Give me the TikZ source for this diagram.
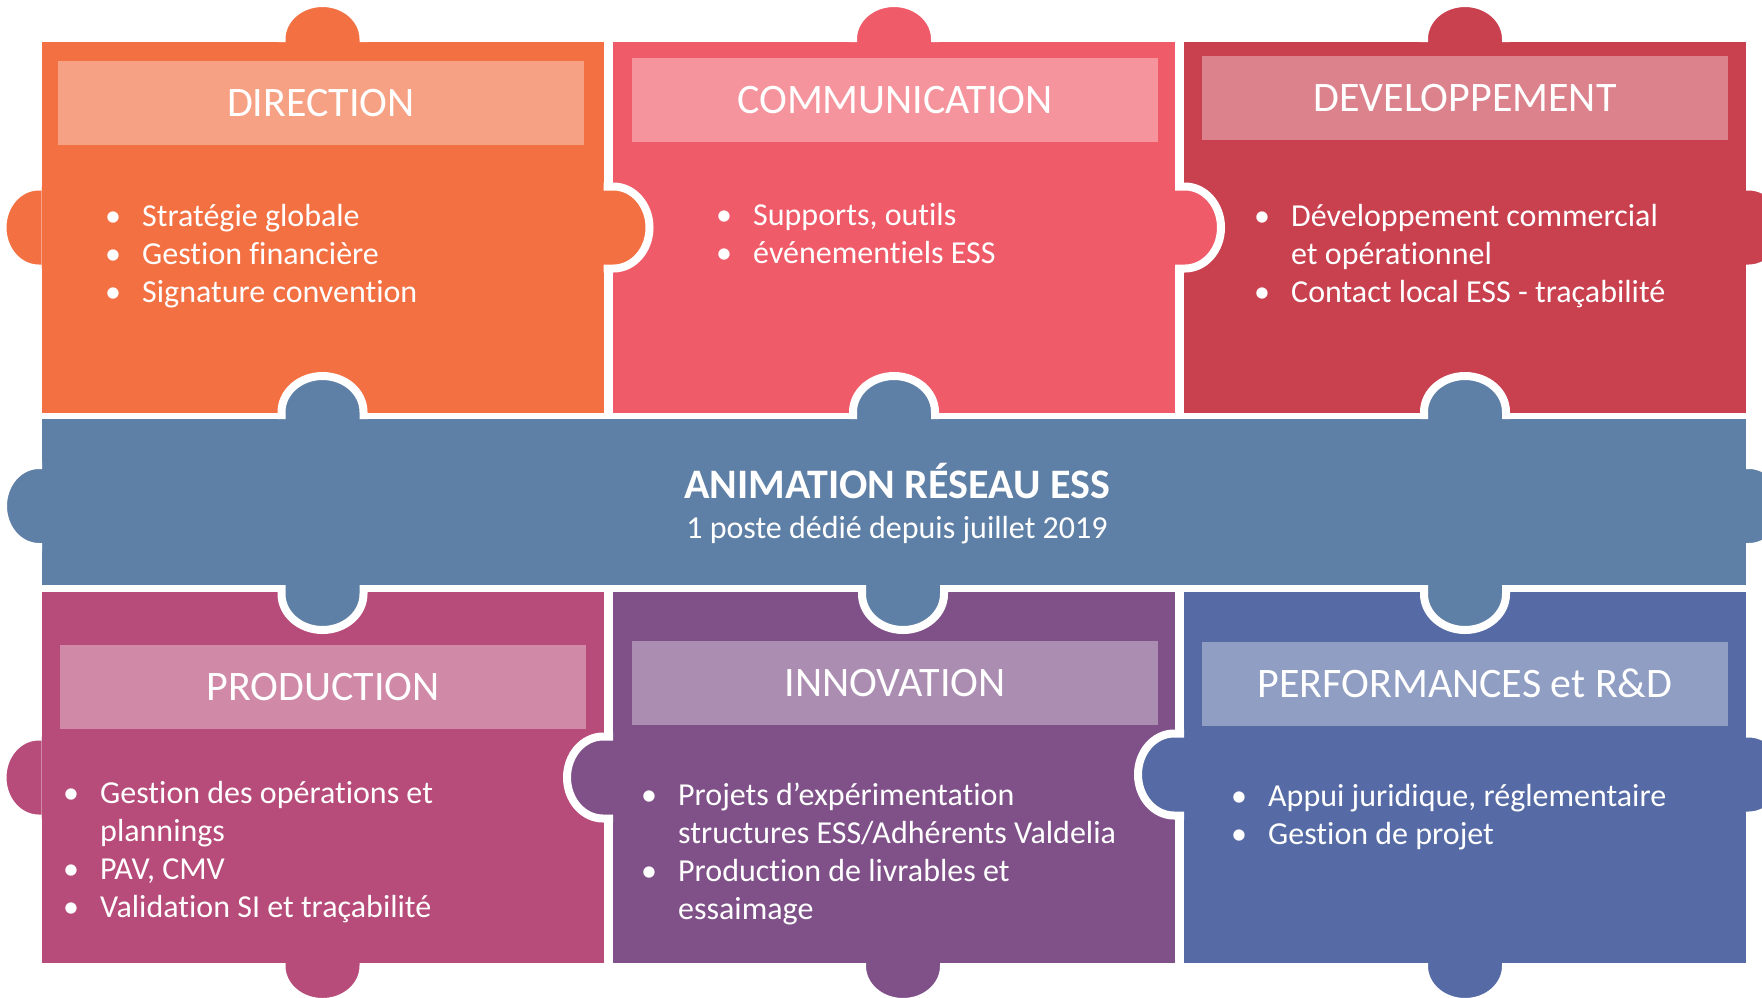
\documentclass[tikz,border=0pt]{standalone}
\usepackage{fontspec}
\setmainfont{Carlito}[Ligatures={NoCommon}]
\usepackage{tikz}
\usetikzlibrary{calc}

\definecolor{dircol}{RGB}{243,112,67}
\definecolor{comcol}{RGB}{240,91,105}
\definecolor{devcol}{RGB}{201,64,79}
\definecolor{bandcol}{RGB}{95,128,166}
\definecolor{prodcol}{RGB}{183,75,121}
\definecolor{innocol}{RGB}{128,81,137}
\definecolor{perfcol}{RGB}{86,107,165}

\newcommand{\bullist}[1]{\begin{tabular}[t]{@{}p{37pt}@{}l@{}}#1\end{tabular}}

\tikzset{
  piece/.style={rectangle, inner sep=0pt, outer sep=0pt, minimum width=562pt, minimum height=371pt},
  head/.style={rectangle, fill=white, fill opacity=0.35, text opacity=1, text=white, inner sep=0pt,
    minimum width=526pt, minimum height=84pt, text height=27pt, text depth=0pt, font=\fontsize{42}{50}\selectfont},
  items/.style={anchor=base west, inner sep=0pt, text=white, font=\fontsize{32}{38}\selectfont},
  knob/.style={draw=white, line width=8pt, line join=round}
}

\begin{document}
\begin{tikzpicture}[x=1pt, y=1pt, yscale=-1]
  \clip (0,0) rectangle (1762,997);

  % pieces
  \node[piece, fill=dircol] (dir) at (322.5,227.5) {};
  \node[piece, fill=comcol] (com) at (894,227.5) {};
  \node[piece, fill=devcol] (dev) at (1465,227.5) {};
  \node[piece, fill=bandcol, minimum width=1704pt, minimum height=166pt] (band) at (894,502) {};
  \node[piece, fill=prodcol] (prod) at (322.5,777.5) {};
  \node[piece, fill=innocol] (inno) at (894,777.5) {};
  \node[piece, fill=perfcol] (perf) at (1465,777.5) {};

  % outer knobs
  \foreach \p/\c in {dir/dircol, com/comcol, dev/devcol}
    \filldraw[knob, fill=\c] ($(\p.north)+(-41,0)$) -- ++(0,-3)
      arc[start angle=180, end angle=360, x radius=41, y radius=36] -- ++(0,3);
  \foreach \p/\c/\dx in {prod/prodcol/0, inno/innocol/9, perf/perfcol/0}
    \filldraw[knob, fill=\c] ($(\p.south)+(-41+\dx,0)$) -- ++(0,3)
      arc[start angle=180, end angle=0, x radius=41, y radius=36] -- ++(0,-3);
  \foreach \p/\c/\dy in {dir/dircol/0, band/bandcol/4, prod/prodcol/0}
    \filldraw[knob, fill=\c] ($(\p.west)+(0,-41+\dy)$) -- ++(-3,0)
      arc[start angle=270, end angle=90, x radius=36, y radius=41] -- ++(3,0);
  \foreach \p/\c/\dy in {dev/devcol/0, band/bandcol/4, perf/perfcol/-3}
    \filldraw[knob, fill=\c] ($(\p.east)+(0,-41+\dy)$) -- ++(3,0)
      arc[start angle=-90, end angle=90, x radius=36, y radius=41] -- ++(-3,0);

  % inner knobs
  \foreach \p/\c in {dir/dircol, com/comcol}
    \filldraw[knob, fill=\c] ($(\p.east)+(0,-41)$) -- ++(10,0)
      arc[start angle=-90, end angle=90, x radius=36, y radius=41] -- ++(-10,0);
  \foreach \p/\c/\dy in {inno/innocol/0, perf/perfcol/-3}
    \filldraw[knob, fill=\c] ($(\p.west)+(0,-41+\dy)$) -- ++(-10,0)
      arc[start angle=270, end angle=90, x radius=36, y radius=41] -- ++(10,0);
  \foreach \p in {dir, com, dev}
    \filldraw[knob, fill=bandcol] ($(\p.south |- band.north)+(-41,0)$) -- ++(0,-7)
      arc[start angle=180, end angle=360, x radius=41, y radius=36] -- ++(0,7);
  \foreach \p/\dx in {prod/0, inno/9, perf/0}
    \filldraw[knob, fill=bandcol] ($(\p.north |- band.south)+(-41+\dx,0)$) -- ++(0,9)
      arc[start angle=180, end angle=0, x radius=41, y radius=36] -- ++(0,-9);

  % headers
  \node[head] (dirhead) at (321,102.5) {DIRECTION};
  \node[head] (comhead) at (895,100) {COMMUNICATION};
  \node[head] (devhead) at (1465,98) {DEVELOPPEMENT};
  \node[head] (prodhead) at (323,687) {PRODUCTION};
  \node[head] (innohead) at (895,683) {INNOVATION};
  \node[head] (perfhead) at (1465,684) {PERFORMANCES et R\&D};

  % lists
  \node[items] (dirlist) at (105,226) {\bullist{\textbullet & Stratégie globale\\
    \textbullet & Gestion financière\\ \textbullet & Signature convention}};
  \node[items] (comlist) at (716,225) {\bullist{\textbullet & Supports, outils\\
    \textbullet & événementiels ESS}};
  \node[items] (devlist) at (1254,226) {\bullist{\textbullet & Développement commercial\\
    & et opérationnel\\ \textbullet & Contact local ESS - traçabilité}};
  \node[items] (prodlist) at (63,803) {\bullist{\textbullet & Gestion des opérations et\\
    & plannings\\ \textbullet & PAV, CMV\\ \textbullet & Validation SI et traçabilité}};
  \node[items] (innolist) at (641,805) {\bullist{\textbullet & Projets d’expérimentation\\
    & structures ESS/Adhérents Valdelia\\ \textbullet & Production de livrables et\\ & essaimage}};
  \node[items] (perflist) at (1231,806) {\bullist{\textbullet & Appui juridique, réglementaire\\
    \textbullet & Gestion de projet}};

  % centre band
  \node[anchor=base, inner sep=0pt, text=white, font=\fontsize{42}{50}\selectfont\bfseries] (title) at (897,498) {ANIMATION RÉSEAU ESS};
  \node[anchor=base, inner sep=0pt, text=white, font=\fontsize{32}{38}\selectfont] (subtitle) at (897,538) {1 poste dédié depuis juillet 2019};
\end{tikzpicture}
\end{document}
